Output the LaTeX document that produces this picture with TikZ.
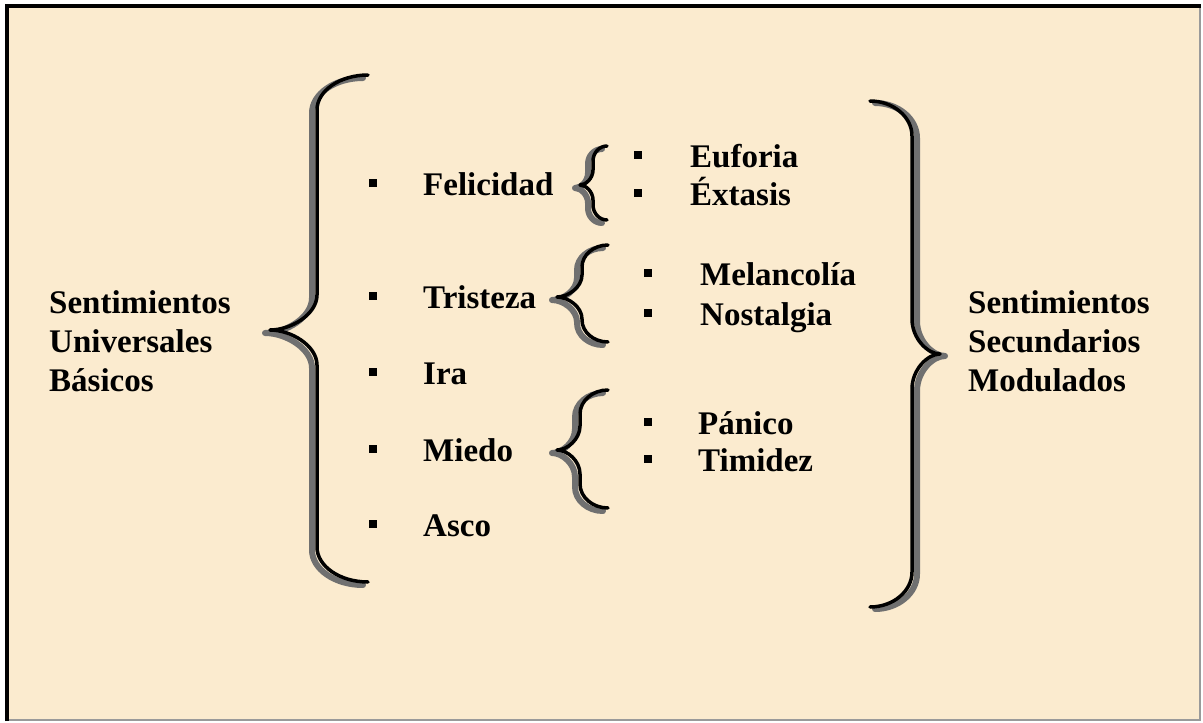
\documentclass[tikz,border=0pt]{standalone}
\usepackage{fontspec}
\setmainfont{Liberation Serif}
\definecolor{paper}{HTML}{FBEBCF}
\definecolor{bracegray}{HTML}{707070}
\definecolor{edgegray}{HTML}{9A9A9A}
\newcommand\bracepath[7]{%
(#1,#4) .. controls ({#2+0.45*(#1-#2)},#4) and (#2,{#4+0.45*#7}) .. (#2,{#4+#7})
-- (#2,{#5-#7}) .. controls (#2,{#5-0.45*#7}) and ({#3+0.45*(#2-#3)},#5) .. (#3,#5)
.. controls ({#3+0.45*(#2-#3)},#5) and (#2,{#5+0.45*#7}) .. (#2,{#5+#7})
-- (#2,{#6-#7}) .. controls (#2,{#6-0.45*#7}) and ({#2+0.45*(#1-#2)},#6) .. (#1,#6)}
\newcommand\shadedbrace[9]{%
\draw[braceshadow,shift={(#8,#9)}] \bracepath{#1}{#2}{#3}{#4}{#5}{#6}{#7};
\draw[braceline] \bracepath{#1}{#2}{#3}{#4}{#5}{#6}{#7};}
\begin{document}
\begin{tikzpicture}[x=1pt,y=-1pt,
  braceline/.style={draw=black,line width=3.5pt,line cap=round,line join=round},
  braceshadow/.style={draw=bracegray,line width=6pt,line cap=round,line join=round},
  bul/.style={rectangle,fill=black,minimum size=8pt,inner sep=0pt},
  lbl/.style={anchor=base west,inner sep=0pt,font=\fontsize{33}{39}\selectfont\bfseries}]
\useasboundingbox (0,0) rectangle (1203,723);
\fill[white] (0,0) rectangle (1203,723);
\fill[paper] (7,6) rectangle (1200,720);
\draw[draw=edgegray,line width=2pt] (1200,6) -- (1200,720) -- (7,720);
\draw[draw=black,line width=4pt] (7,721) -- (7,6) -- (1201,6);
% braces
\shadedbrace{368}{317}{270}{75}{330}{582}{35}{-5}{3}
\shadedbrace{870}{912}{940}{101}{354}{607}{35}{5}{2}
\shadedbrace{607}{593}{580}{146}{185}{220}{15}{-5}{3}
\shadedbrace{608}{582}{557}{245}{297}{342}{22}{-5}{3}
\shadedbrace{608}{580}{557}{390}{450}{508}{24}{-5}{3}
% left text
\node[lbl] (l1) at (49,313) {Sentimientos};
\node[lbl] (l2) at (49,352) {Universales};
\node[lbl] (l3) at (49,391) {Básicos};
% right text
\node[lbl] (r1) at (968,313) {Sentimientos};
\node[lbl] (r2) at (968,352) {Secundarios};
\node[lbl] (r3) at (968,391) {Modulados};
% main list
\node[bul] (b1) at (373,183) {};
\node[bul] (b2) at (373,296) {};
\node[bul] (b3) at (373,372) {};
\node[bul] (b4) at (373,449) {};
\node[bul] (b5) at (373,524) {};
\node[lbl] (t1) at (423,195) {Felicidad};
\node[lbl] (t2) at (423,308) {Tristeza};
\node[lbl] (t3) at (423,384) {Ira};
\node[lbl] (t4) at (423,461) {Miedo};
\node[lbl] (t5) at (423,536) {Asco};
% sub lists
\node[bul] (s1) at (638,155) {};
\node[bul] (s2) at (638,193) {};
\node[lbl] (u1) at (690,167) {Euforia};
\node[lbl] (u2) at (690,205) {Éxtasis};
\node[bul] (s3) at (648,273) {};
\node[bul] (s4) at (648,313) {};
\node[lbl] (u3) at (700,285) {Melancolía};
\node[lbl] (u4) at (700,325) {Nostalgia};
\node[bul] (s5) at (648,422) {};
\node[bul] (s6) at (648,459) {};
\node[lbl] (u5) at (698,434) {Pánico};
\node[lbl] (u6) at (698,471) {Timidez};
\end{tikzpicture}
\end{document}
